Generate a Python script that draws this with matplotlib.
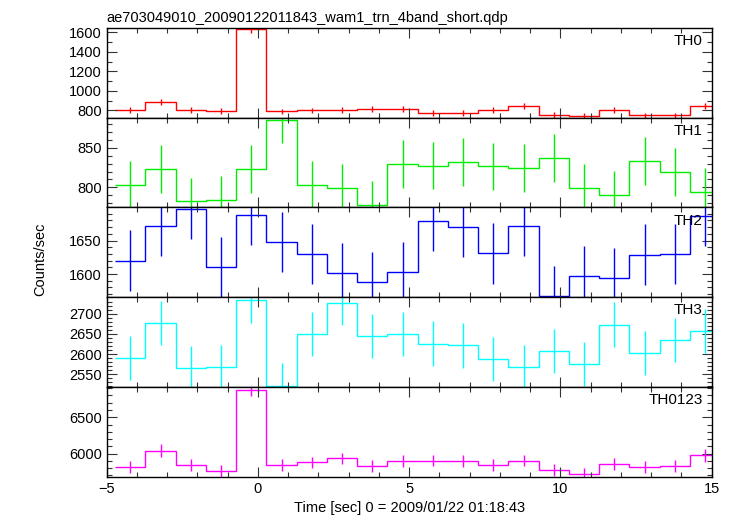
import numpy as np
import matplotlib
matplotlib.use('Agg')
import matplotlib.pyplot as plt
from matplotlib.ticker import MultipleLocator

plt.rcParams['font.family'] = ['Liberation Sans', 'DejaVu Sans']

# bin centres (1 s bins)
t_first = -4.22
n_bins = 20
bin_width = 1.0

th0 = [807, 883, 807, 797, 1631, 790, 800, 807, 817, 817,
       776, 776, 807, 844, 755, 745, 803, 750, 750, 848]
th0_err = [28, 30, 28, 28, 35, 28, 28, 28, 28, 28,
           28, 28, 28, 29, 28, 28, 28, 28, 28, 29]

th1 = [803, 823, 782, 784, 823, 885.6, 803.4, 799, 777.6, 829.7,
       827.5, 832, 826.7, 824.6, 837.3, 799.6, 790.3, 833.5, 819.5, 794.5]
th1_err = [30] * 20

th2 = [1620, 1671.7, 1697.4, 1610, 1688, 1647.4, 1630, 1602, 1588, 1603.5,
       1678.8, 1669.7, 1630.8, 1671.2, 1567.6, 1597.5, 1594, 1629, 1629.7, 1686.8]
th2_err = [45] * 20

th3 = [2590, 2677, 2564.4, 2567.7, 2733, 2521.7, 2650, 2727, 2645, 2649,
       2625.7, 2621.6, 2587.6, 2566.8, 2607, 2576, 2672.8, 2602.5, 2634, 2657]
th3_err = [55] * 20

th0123 = [5809, 6041, 5840, 5758.5, 6877, 5836, 5877, 5932, 5823, 5891,
          5904, 5891, 5845, 5904, 5768, 5714, 5850, 5809, 5831, 5973]
th0123_err = [82, 84, 82, 82, 86, 82, 82, 82, 82, 82,
              82, 82, 82, 82, 82, 82, 82, 82, 82, 83]

names = ['TH0', 'TH1', 'TH2', 'TH3', 'TH0123']
series = [th0, th1, th2, th3, th0123]
errors = [th0_err, th1_err, th2_err, th3_err, th0123_err]
colors = ['#ff0000', '#00ee00', '#0000ff', '#00ffff', '#ff00ff']
ylims = [(728, 1648), (774.6, 888.5), (1565.6, 1699.6), (2518.6, 2741), (5681, 6918.6)]
major = [200, 50, 50, 50, 500]
minor = [100, 10, 10, 10, 100]

centers = t_first + bin_width * np.arange(n_bins)
edges = np.append(centers - bin_width / 2, centers[-1] + bin_width / 2)

fig = plt.figure(figsize=(7.33, 5.16), dpi=100)
left, right = 0.1456, 0.971
bottom, top = 0.0762, 0.9463
h = (top - bottom) / 5

for i in range(5):
    ax = fig.add_axes([left, top - (i + 1) * h, right - left, h])
    ax.stairs(series[i], edges, baseline=None, color=colors[i], lw=1.0)
    ax.errorbar(centers, series[i], yerr=errors[i], fmt='none',
                ecolor=colors[i], elinewidth=1.0)
    ax.set_xlim(-5, 15)
    ax.set_ylim(*ylims[i])
    ax.xaxis.set_major_locator(MultipleLocator(5))
    ax.xaxis.set_minor_locator(MultipleLocator(1))
    ax.yaxis.set_major_locator(MultipleLocator(major[i]))
    ax.yaxis.set_minor_locator(MultipleLocator(minor[i]))
    ax.tick_params(which='both', direction='in', top=True, right=True,
                   labelsize=10.5, width=0.8, color='#333333')
    ax.tick_params(which='major', length=7)
    ax.tick_params(which='minor', length=3.5)
    for sp in ax.spines.values():
        sp.set_linewidth(1.0)
    if i < 4:
        ax.tick_params(labelbottom=False)
    ax.text(0.985, 0.93, names[i], transform=ax.transAxes, ha='right', va='top',
            fontsize=11)
    if i == 0:
        ax.set_title('ae703049010_20090122011843_wam1_trn_4band_short.qdp',
                     loc='left', fontsize=10.5, pad=4)
    if i == 4:
        ax.set_xlabel('Time [sec] 0 = 2009/01/22 01:18:43', fontsize=10.5, labelpad=4)

fig.text(40 / 733, 1 - 259 / 516, 'Counts/sec', rotation=90, ha='center', va='center',
         fontsize=10.5)

fig.savefig('out.png', dpi=100)
